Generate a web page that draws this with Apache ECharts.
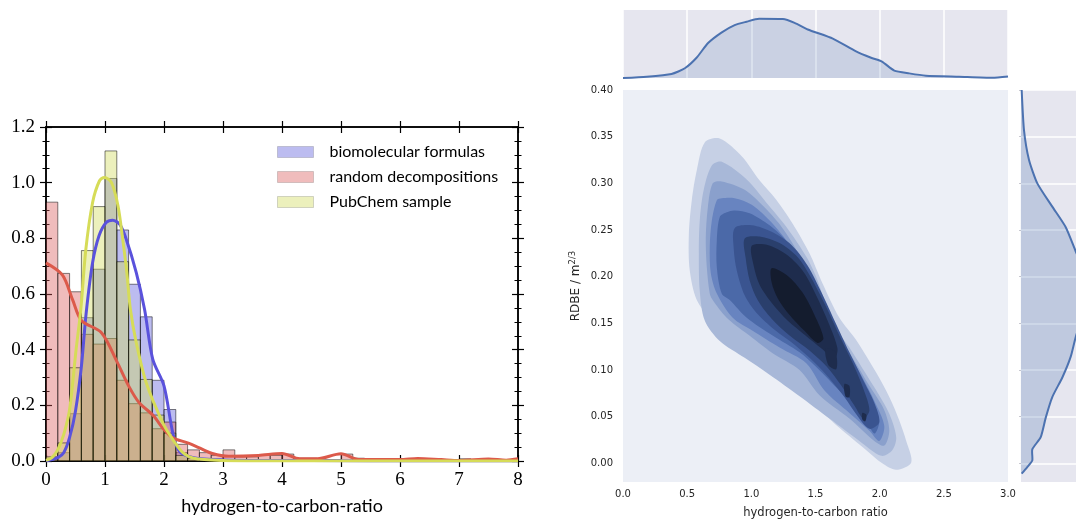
<!DOCTYPE html>
<html>
<head>
<meta charset="utf-8">
<script src="https://cdn.jsdelivr.net/npm/echarts@6/dist/echarts.min.js"></script>
<style>
  html, body { margin: 0; background: #fff; }
  #chart { width: 1076px; height: 519px; }
</style>
</head>
<body>
<div id="chart"></div>
<script>
// ---- left panel: histograms (bin width 0.2) ----
var binEdges = [0, 0.2, 0.4, 0.6, 0.8, 1, 1.2, 1.4, 1.6, 1.8, 2, 2.2, 2.4, 2.6, 2.8, 3, 3.2, 3.4, 3.6, 3.8,
  4, 4.2, 4.4, 4.6, 4.8, 5, 5.2, 5.4, 5.6, 5.8, 6, 6.2, 6.4, 6.6, 6.8, 7, 7.2, 7.4, 7.6, 7.8, 8];
var bioHist = [0.005, 0.03, 0.17, 0.515, 0.689, 1.015, 0.83, 0.635, 0.518, 0.29, 0.185, 0.03, 0.01, 0.005, 0.003,
  0, 0, 0, 0, 0, 0, 0, 0, 0, 0, 0, 0, 0, 0, 0, 0, 0, 0, 0, 0, 0, 0, 0, 0, 0];
var randHist = [0.93, 0.674, 0.608, 0.455, 0.42, 0.44, 0.29, 0.206, 0.173, 0.116, 0.14, 0.06, 0.04, 0.03, 0.02,
  0.04, 0.015, 0.015, 0.02, 0.02, 0.025, 0.01, 0.01, 0.005, 0.005, 0.025, 0.01, 0.003, 0.005, 0.003,
  0.008, 0.008, 0.005, 0.003, 0.003, 0.008, 0.003, 0.005, 0.003, 0.005];
var pubHist = [0.015, 0.065, 0.335, 0.756, 0.914, 1.114, 0.716, 0.435, 0.293, 0.165, 0.10, 0.02, 0.01,
  0, 0, 0, 0, 0, 0, 0, 0, 0, 0, 0, 0, 0, 0, 0, 0, 0, 0, 0, 0, 0, 0, 0, 0, 0, 0, 0];

// kde curves
var bioKdeX = [0, 0.1, 0.2, 0.3, 0.4, 0.5, 0.6, 0.68, 0.79, 0.9, 1.02, 1.13, 1.25, 1.36, 1.53, 1.67, 1.81, 2.0, 2.15, 2.26, 2.5, 3, 4, 5, 6, 7, 8];
var bioKdeY = [0, 0.005, 0.012, 0.03, 0.085, 0.18, 0.34, 0.53, 0.713, 0.81, 0.857, 0.865, 0.85, 0.797, 0.677, 0.545, 0.365, 0.27, 0.10, 0.035, 0.012, 0.004, 0.002, 0.001, 0, 0, 0];
var randKdeX = [0, 0.28, 0.45, 0.6, 0.94, 1.2, 1.4, 1.58, 1.81, 2.0, 2.15, 2.4, 2.6, 2.82, 3.1, 3.6, 4.0, 4.3, 4.6, 5.0, 5.3, 6.0, 6.3, 6.7, 7.0, 7.5, 7.8, 8.0];
var randKdeY = [0.712, 0.668, 0.58, 0.505, 0.461, 0.358, 0.27, 0.209, 0.165, 0.113, 0.083, 0.065, 0.047, 0.027, 0.017, 0.02, 0.027, 0.008, 0.008, 0.026, 0.005, 0.005, 0.009, 0.005, 0.002, 0.007, 0.003, 0.008];
var pubKdeX = [0, 0.1, 0.2, 0.3, 0.4, 0.51, 0.59, 0.675, 0.79, 0.905, 0.99, 1.11, 1.22, 1.30, 1.37, 1.43, 1.53, 1.70, 1.98, 2.15, 2.32, 2.5, 3.0, 4.0, 8.0];
var pubKdeY = [0.002, 0.012, 0.041, 0.095, 0.185, 0.40, 0.545, 0.76, 0.929, 1.006, 1.019, 1.0, 0.917, 0.797, 0.677, 0.545, 0.425, 0.28, 0.137, 0.077, 0.03, 0.01, 0.002, 0, 0];

var legendNames = ['biomolecular formulas', 'random decompositions', 'PubChem sample'];

// ---- right panel: marginal densities ----
var topMargX = [0, 0.184, 0.378, 0.482, 0.573, 0.663, 0.767, 0.870, 0.961, 1.060, 1.246, 1.337, 1.440, 1.635, 1.816, 1.933, 2.018, 2.114, 2.230, 2.360, 2.619, 2.878, 3.0];
var topMargY = [0.0, 0.014, 0.043, 0.103, 0.214, 0.370, 0.481, 0.560, 0.595, 0.627, 0.624, 0.584, 0.514, 0.417, 0.281, 0.214, 0.174, 0.078, 0.049, 0.025, 0.014, 0.003, 0.017];
var sideMargY = [0.40, 0.357, 0.325, 0.300, 0.275, 0.253, 0.228, 0.20, 0.18, 0.16, 0.139, 0.114, 0.092, 0.071, 0.049, 0.028, 0.015, 0.003, -0.004, -0.011];
var sideMargD = [0.05, 0.22, 0.59, 1.20, 2.30, 3.29, 4.0, 4.8, 5.0, 4.8, 4.1, 3.65, 3.04, 2.30, 1.82, 1.45, 0.83, 0.83, 0.46, 0.05];

// ---- right panel: filled kde contour levels (outer to inner) ----
var level1 = [[0.638,0.344],[0.754,0.348],[0.925,0.329],[1.065,0.303],[1.197,0.282],[1.321,0.257],[1.453,0.225],[1.554,0.193],[1.686,0.156],[1.818,0.132],[1.974,0.097],[2.075,0.071],[2.153,0.046],[2.207,0.024],[2.246,0.001],[2.129,-0.007],[2.02,0.000],[1.896,0.014],[1.686,0.038],[1.453,0.067],[1.220,0.094],[1.026,0.112],[0.832,0.134],[0.692,0.153],[0.575,0.175],[0.520,0.207],[0.513,0.245],[0.536,0.282],[0.575,0.314]];
var level2 = [[0.692,0.319],[0.770,0.323],[0.964,0.304],[1.119,0.279],[1.275,0.253],[1.430,0.221],[1.516,0.196],[1.632,0.150],[1.764,0.124],[1.865,0.102],[1.974,0.078],[2.075,0.053],[2.129,0.028],[2.098,0.014],[2.013,0.008],[1.842,0.024],[1.609,0.048],[1.376,0.072],[1.142,0.095],[0.948,0.113],[0.754,0.131],[0.637,0.153],[0.598,0.185],[0.591,0.225],[0.598,0.260],[0.629,0.293]];
var level3 = [[0.699,0.300],[0.769,0.302],[0.948,0.293],[1.104,0.274],[1.243,0.252],[1.376,0.223],[1.469,0.196],[1.570,0.164],[1.686,0.137],[1.803,0.110],[1.920,0.083],[2.036,0.057],[2.075,0.035],[2.036,0.019],[1.958,0.024],[1.764,0.048],[1.531,0.073],[1.376,0.100],[1.166,0.118],[0.964,0.139],[0.808,0.156],[0.699,0.175],[0.676,0.182],[0.653,0.210],[0.645,0.242],[0.661,0.274]];
var level4 = [[0.731,0.282],[0.769,0.284],[0.870,0.284],[1.003,0.277],[1.158,0.258],[1.298,0.234],[1.414,0.207],[1.531,0.175],[1.632,0.148],[1.749,0.121],[1.858,0.094],[1.958,0.067],[2.036,0.040],[1.997,0.024],[1.920,0.035],[1.764,0.054],[1.570,0.078],[1.430,0.107],[1.220,0.124],[1.010,0.142],[0.855,0.156],[0.731,0.182],[0.684,0.204],[0.676,0.232],[0.692,0.260]];
var level5 = [[0.754,0.264],[0.808,0.269],[0.870,0.271],[0.987,0.268],[1.142,0.255],[1.282,0.237],[1.399,0.212],[1.508,0.183],[1.609,0.153],[1.725,0.126],[1.826,0.100],[1.920,0.073],[1.997,0.046],[1.958,0.032],[1.865,0.053],[1.686,0.078],[1.508,0.103],[1.376,0.119],[1.166,0.137],[0.964,0.156],[0.832,0.175],[0.769,0.182],[0.731,0.210],[0.731,0.239]];
var level6 = [[0.870,0.252],[1.003,0.255],[1.158,0.248],[1.313,0.234],[1.438,0.212],[1.547,0.183],[1.655,0.151],[1.764,0.119],[1.865,0.091],[1.958,0.065],[1.997,0.044],[1.920,0.037],[1.826,0.051],[1.725,0.071],[1.609,0.091],[1.492,0.108],[1.337,0.127],[1.181,0.143],[1.041,0.161],[0.948,0.180],[0.886,0.207],[0.863,0.230]];
var level7 = [[0.948,0.241],[1.065,0.243],[1.220,0.236],[1.360,0.221],[1.469,0.198],[1.578,0.169],[1.686,0.137],[1.788,0.108],[1.873,0.080],[1.920,0.057],[1.873,0.048],[1.803,0.062],[1.702,0.083],[1.585,0.104],[1.453,0.121],[1.298,0.137],[1.158,0.155],[1.049,0.175],[0.987,0.196],[0.956,0.220]];
var level8 = [[1.003,0.233],[1.127,0.234],[1.282,0.223],[1.407,0.205],[1.516,0.177],[1.609,0.148],[1.671,0.123],[1.648,0.112],[1.547,0.123],[1.422,0.137],[1.282,0.153],[1.158,0.172],[1.065,0.191],[1.018,0.212]];
var level8b = [[1.578,0.123],[1.655,0.119],[1.663,0.101],[1.601,0.105]];
var level8c = [[1.725,0.085],[1.764,0.083],[1.764,0.071],[1.733,0.072]];
var level8d = [[1.865,0.054],[1.896,0.052],[1.888,0.045],[1.865,0.047]];
var level9 = [[1.158,0.209],[1.282,0.201],[1.399,0.183],[1.492,0.159],[1.562,0.134],[1.516,0.129],[1.414,0.142],[1.298,0.159],[1.205,0.177],[1.158,0.194]];

var contourColors = ['#c6d0e5', '#a8b8d8', '#8aa0cc', '#6884c0', '#4b69a8', '#3a5490', '#2a3f6c', '#1e2c4d', '#141c2e'];
var contourShapes = [
  { level: 0, pts: level1 }, { level: 1, pts: level2 }, { level: 2, pts: level3 },
  { level: 3, pts: level4 }, { level: 4, pts: level5 }, { level: 5, pts: level6 },
  { level: 6, pts: level7 }, { level: 7, pts: level8 }, { level: 7, pts: level8b },
  { level: 7, pts: level8c }, { level: 7, pts: level8d }, { level: 8, pts: level9 }
];

function pairs(xs, ys) {
  return xs.map(function (x, i) { return [x, ys[i]]; });
}

function histData(h) {
  return h.map(function (v, i) { return [binEdges[i], binEdges[i + 1], v]; });
}

function histSeries(name, h, fill) {
  return {
    name: name,
    type: 'custom',
    xAxisIndex: 0,
    yAxisIndex: 0,
    itemStyle: { color: fill },
    encode: { x: [0, 1], y: 2 },
    data: histData(h),
    renderItem: function (params, api) {
      var v = api.value(2);
      if (!v) return null;
      var p0 = api.coord([api.value(0), 0]);
      var p1 = api.coord([api.value(1), v]);
      return {
        type: 'rect',
        shape: { x: p0[0], y: p1[1], width: p1[0] - p0[0], height: p0[1] - p1[1] },
        style: { fill: fill, stroke: 'rgba(0,0,0,0.5)', lineWidth: 1 }
      };
    }
  };
}

function kdeSeries(xs, ys, color) {
  return {
    type: 'line',
    xAxisIndex: 0,
    yAxisIndex: 0,
    data: pairs(xs, ys),
    smooth: 0.3,
    showSymbol: false,
    lineStyle: { color: color, width: 3 },
    z: 5
  };
}

var serifLabel = { fontFamily: 'Liberation Serif', fontSize: 19, color: '#000' };
var blackLine = { color: '#000', width: 1.5 };

function leftX(gridIndex, pos, inside, labels) {
  return {
    type: 'value', gridIndex: gridIndex, position: pos, min: 0, max: 8, interval: 1,
    axisLine: { show: true, onZero: false, lineStyle: blackLine },
    axisTick: { show: true, inside: inside, length: 6, lineStyle: { color: '#000', width: 1.2 } },
    axisLabel: labels ? Object.assign({ margin: 10 }, serifLabel) : { show: false },
    splitLine: { show: false },
    name: labels ? 'hydrogen-to-carbon-ratio' : '',
    nameLocation: 'middle', nameGap: 36,
    nameTextStyle: { fontFamily: 'Lato', fontSize: 18, color: '#000' }
  };
}

function leftY(gridIndex, pos, inside, labels) {
  return {
    type: 'value', gridIndex: gridIndex, position: pos, min: 0, max: 1.2, interval: 0.2,
    axisLine: { show: true, onZero: false, lineStyle: blackLine },
    axisTick: { show: true, inside: inside, length: 6, lineStyle: { color: '#000', width: 1.2 } },
    minorTick: { show: true, splitNumber: 4, length: 3.5, lineStyle: { color: '#000', width: 1 } },
    axisLabel: labels ? Object.assign({ margin: 11, formatter: function (v) { return v.toFixed(1); } }, serifLabel) : { show: false },
    splitLine: { show: false }
  };
}

var rdbeTicks = [0, 0.05, 0.1, 0.15, 0.2, 0.25, 0.3, 0.35, 0.4];
var sansSmall = { fontFamily: 'DejaVu Sans', fontSize: 10, color: '#262626' };

var chart = echarts.init(document.getElementById('chart'));
chart.setOption({
  animation: false,
  backgroundColor: '#fff',
  grid: [
    { left: 46, top: 127, width: 472, height: 334, outerBoundsMode: 'none' },
    { left: 46, top: 127, width: 472, height: 334, outerBoundsMode: 'none' },
    { left: 623, top: 10, width: 385, height: 68, show: true, backgroundColor: '#e6e6ef', borderWidth: 0, outerBoundsMode: 'none' },
    { left: 623, top: 90, width: 385, height: 392, show: true, backgroundColor: '#eceff6', borderWidth: 0, outerBoundsMode: 'none' },
    { left: 1021, top: 90, width: 68, height: 392, show: true, backgroundColor: '#e6e6ef', borderWidth: 0, outerBoundsMode: 'none' }
  ],
  legend: {
    left: 277, top: 144, orient: 'vertical', padding: 0,
    itemWidth: 36, itemHeight: 11, itemGap: 9,
    icon: 'rect',
    textStyle: { fontFamily: 'Lato', fontSize: 16, color: '#000', lineHeight: 16, padding: [0, 0, 0, 11] },
    data: [
      { name: legendNames[0], itemStyle: { color: 'rgba(88,88,218,0.4)', borderColor: 'rgba(0,0,0,0.15)', borderWidth: 1 } },
      { name: legendNames[1], itemStyle: { color: 'rgba(218,88,88,0.4)', borderColor: 'rgba(0,0,0,0.15)', borderWidth: 1 } },
      { name: legendNames[2], itemStyle: { color: 'rgba(208,218,88,0.4)', borderColor: 'rgba(0,0,0,0.15)', borderWidth: 1 } }
    ]
  },
  xAxis: [
    leftX(0, 'bottom', false, true),
    leftX(0, 'top', false, false),
    leftX(1, 'bottom', true, false),
    leftX(1, 'top', true, false),
    {
      type: 'value', gridIndex: 2, min: 0, max: 3, interval: 0.5,
      axisLine: { show: false }, axisTick: { show: false }, axisLabel: { show: false },
      splitLine: { show: true, lineStyle: { color: '#fff', width: 1.5 } }
    },
    {
      type: 'value', gridIndex: 3, min: 0, max: 3, interval: 0.5,
      axisLine: { show: false }, axisTick: { show: false },
      axisLabel: Object.assign({ margin: 7, formatter: function (v) { return v.toFixed(1); } }, sansSmall),
      splitLine: { show: false },
      name: 'hydrogen-to-carbon ratio', nameLocation: 'middle', nameGap: 25,
      nameTextStyle: { fontFamily: 'DejaVu Sans', fontSize: 11.5, color: '#262626' }
    },
    {
      type: 'value', gridIndex: 4, min: 0, max: 5, show: false, splitLine: { show: false }
    }
  ],
  yAxis: [
    leftY(0, 'left', false, true),
    leftY(0, 'right', false, false),
    leftY(1, 'left', true, false),
    leftY(1, 'right', true, false),
    {
      type: 'value', gridIndex: 2, min: 0, max: 0.72, show: false, splitLine: { show: false }
    },
    {
      type: 'value', gridIndex: 3, min: -0.02, max: 0.4,
      axisLine: { show: false },
      axisTick: { show: false, customValues: rdbeTicks },
      axisLabel: Object.assign({ margin: 10, customValues: rdbeTicks, formatter: function (v) { return v.toFixed(2); } }, sansSmall),
      splitLine: { show: false },
      name: '{a|RDBE / m}{b|2/3}', nameLocation: 'middle', nameGap: 39, nameRotate: 90,
      nameTextStyle: {
        rich: {
          a: { fontFamily: 'DejaVu Sans', fontSize: 12, color: '#262626' },
          b: { fontFamily: 'DejaVu Sans', fontSize: 8.5, color: '#262626', padding: [0, 0, 7, 0] }
        }
      }
    },
    {
      type: 'value', gridIndex: 4, min: -0.02, max: 0.4,
      axisLine: { show: false },
      axisTick: { show: true, length: 2, customValues: rdbeTicks, lineStyle: { color: '#c8c8d0' } },
      axisLabel: { show: false },
      splitLine: { show: true, lineStyle: { color: '#fff', width: 1.5 } }
    }
  ],
  series: [
    histSeries(legendNames[0], bioHist, 'rgba(88,88,218,0.4)'),
    histSeries(legendNames[1], randHist, 'rgba(218,88,88,0.4)'),
    histSeries(legendNames[2], pubHist, 'rgba(208,218,88,0.4)'),
    kdeSeries(bioKdeX, bioKdeY, '#5a52dc'),
    kdeSeries(randKdeX, randKdeY, '#dc5a4b'),
    kdeSeries(pubKdeX, pubKdeY, '#d6dc58'),
    {
      type: 'line', xAxisIndex: 4, yAxisIndex: 4,
      data: pairs(topMargX, topMargY),
      showSymbol: false, smooth: 0.2,
      lineStyle: { color: '#4c72b0', width: 2 },
      areaStyle: { color: 'rgba(76,114,176,0.25)', origin: 'start' }
    },
    {
      type: 'custom', xAxisIndex: 5, yAxisIndex: 5,
      data: contourShapes.map(function (s, i) { return [s.pts[0][0], s.pts[0][1], i]; }),
      renderItem: function (params, api) {
        var s = contourShapes[params.dataIndex];
        var pts = s.pts.map(function (p) { return api.coord(p); });
        return {
          type: 'polygon',
          shape: { points: pts, smooth: 0.3 },
          style: { fill: contourColors[s.level], stroke: null }
        };
      }
    },
    {
      type: 'custom', xAxisIndex: 6, yAxisIndex: 6,
      data: [[0, 0]],
      renderItem: function (params, api) {
        var line = sideMargY.map(function (y, i) { return api.coord([sideMargD[i], y]); });
        var area = line.concat([api.coord([0, sideMargY[sideMargY.length - 1]]), api.coord([0, sideMargY[0]])]);
        return {
          type: 'group',
          children: [
            { type: 'polygon', shape: { points: area, smooth: 0.2 }, style: { fill: 'rgba(76,114,176,0.25)' } },
            { type: 'polyline', shape: { points: line, smooth: 0.2 }, style: { stroke: '#4c72b0', lineWidth: 2, fill: null } }
          ]
        };
      }
    }
  ]
});
</script>
</body>
</html>
